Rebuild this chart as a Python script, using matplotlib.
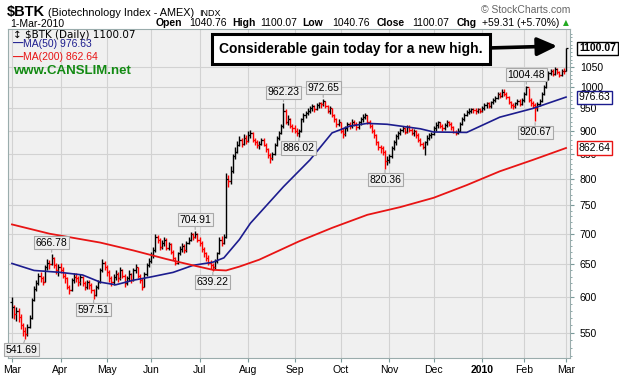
import numpy as np
import pandas as pd
import matplotlib
matplotlib.use("Agg")
import matplotlib.pyplot as plt
from matplotlib.ticker import FixedLocator, FixedFormatter, NullFormatter
from matplotlib.transforms import blended_transform_factory

plt.rcParams['font.family'] = ['Liberation Sans', 'DejaVu Sans']

# trading days 2-Mar-2009 .. 1-Mar-2010
holidays = ['2009-04-10', '2009-05-25', '2009-07-03', '2009-09-07', '2009-11-26',
            '2009-12-25', '2010-01-01', '2010-01-18', '2010-02-15']
dates = pd.bdate_range('2009-03-02', '2010-03-01', freq='C', holidays=holidays)

# daily closes, highs, lows (month by month)
closes = [
    585, 575, 580, 572, 560, 552, 548, 558, 570, 595, 612, 620, 632, 628, 622, 645, 652, 650, 660, 648, 640, 645,
    640, 632, 628, 615, 610, 625, 630, 628, 622, 630, 620, 615, 622, 618, 610, 603, 615, 622, 640, 652, 645,
    638, 628, 622, 630, 635, 628, 640, 632, 620, 628, 635, 625, 640, 645, 632, 625, 615, 635, 648, 655,
    665, 672, 695, 690, 678, 685, 690, 676, 682, 670, 660, 652, 668, 675, 680, 672, 685, 690, 700, 695, 700, 690,
    685, 675, 668, 660, 652, 648, 645, 655, 668, 690, 685, 695, 800, 795, 815, 845, 855, 870, 880, 872, 885, 878,
    890, 895, 880, 875, 868, 872, 880, 870, 860, 848, 842, 850, 870, 885, 895, 910, 945, 920, 925, 910, 905,
    900, 895, 900, 925, 935, 940, 945, 950, 955, 948, 958, 962, 960, 968, 955, 945, 950, 935, 925, 915, 920,
    900, 892, 905, 915, 910, 920, 915, 908, 918, 925, 930, 935, 920, 910, 900, 890, 875, 865, 862, 855, 835, 838,
    845, 862, 875, 888, 895, 902, 905, 898, 908, 902, 895, 900, 890, 880, 872, 865, 875, 885, 890, 892,
    905, 912, 918, 910, 905, 912, 918, 915, 908, 898, 895, 900, 915, 925, 935, 942, 945, 948, 946, 944, 948, 945,
    950, 958, 962, 955, 965, 970, 975, 985, 980, 990, 985, 978, 965, 958, 955, 962, 968, 960, 970,
    985, 1000, 970, 962, 958, 950, 960, 968, 985, 1000, 1020, 1035, 1040, 1032, 1045, 1038, 1030, 1042, 1040.76,
    1100.07,
]
highs = [
    600, 588, 586, 584, 575, 563, 558, 562, 574, 598, 616, 626, 636, 638, 632, 648, 658, 656, 666.78, 662, 652, 650,
    652, 645, 636, 630, 618, 628, 636, 636, 632, 634, 632, 624, 626, 625, 620, 612, 618, 626, 644, 658, 655,
    648, 640, 632, 634, 640, 638, 645, 642, 634, 632, 640, 636, 644, 650, 646, 635, 628, 638, 652, 660,
    670, 678, 700, 698, 692, 690, 695, 692, 686, 684, 672, 662, 670, 680, 684, 682, 688, 695, 703, 702, 704.91, 702,
    694, 688, 678, 670, 664, 656, 652, 658, 670, 694, 696, 700, 812, 808, 826, 850, 865, 878, 888, 885, 892, 890,
    900, 902, 896, 885, 880, 878, 885, 884, 874, 862, 852, 855, 874, 888, 900, 915, 962.23, 948, 935, 928, 915,
    912, 905, 904, 928, 940, 945, 950, 955, 960, 958, 962, 966, 966, 972.65, 968, 958, 955, 952, 938, 928, 925,
    920, 905, 910, 920, 920, 925, 924, 918, 922, 930, 938, 940, 936, 924, 914, 904, 892, 878, 870, 866, 858, 845,
    850, 866, 880, 892, 900, 906, 910, 908, 912, 912, 905, 904, 902, 894, 884, 876, 878, 890, 895, 898,
    910, 918, 922, 920, 914, 916, 924, 922, 918, 910, 902, 905, 918, 930, 940, 946, 950, 952, 952, 950, 952, 952,
    956, 962, 966, 966, 968, 975, 980, 990, 990, 995, 996, 990, 980, 968, 962, 966, 972, 972, 975,
    990, 1004.48, 998, 975, 968, 962, 965, 972, 990, 1005, 1025, 1040, 1046, 1045, 1050, 1048, 1042, 1046, 1048,
    1100.07,
]
lows = [
    570, 568, 566, 565, 555, 546, 541.69, 545, 556, 568, 594, 608, 618, 622, 618, 622, 640, 642, 648, 644, 634, 632,
    636, 628, 620, 612, 605, 608, 620, 622, 616, 618, 616, 610, 612, 612, 606, 597.51, 602, 612, 620, 638, 640,
    632, 622, 616, 618, 626, 622, 626, 628, 615, 618, 624, 620, 624, 636, 628, 620, 610, 614, 632, 645,
    652, 660, 670, 684, 672, 674, 680, 672, 672, 666, 656, 648, 650, 664, 670, 668, 670, 682, 688, 690, 692, 686,
    680, 670, 662, 655, 648, 642, 639.22, 642, 652, 666, 680, 682, 692, 785, 790, 812, 840, 852, 866, 865, 868, 872,
    876, 884, 876, 868, 862, 860, 868, 866, 855, 842, 832, 838, 848, 866, 880, 892, 905, 915, 912, 905, 898,
    895, 888, 886.02, 898, 920, 928, 934, 940, 944, 942, 946, 950, 952, 955, 950, 940, 938, 930, 918, 908, 910,
    894, 884, 888, 900, 904, 906, 910, 902, 904, 912, 920, 925, 915, 905, 895, 884, 870, 858, 852, 848, 820.36, 828,
    832, 842, 858, 870, 882, 890, 896, 892, 894, 896, 890, 888, 884, 875, 866, 860, 848, 870, 880, 884,
    890, 900, 906, 905, 900, 902, 908, 910, 902, 894, 890, 892, 898, 912, 922, 932, 938, 940, 940, 938, 940, 940,
    942, 946, 952, 950, 952, 960, 966, 972, 975, 978, 980, 972, 960, 952, 948, 950, 958, 955, 958,
    965, 982, 965, 955, 950, 920.67, 945, 955, 965, 982, 998, 1018, 1030, 1028, 1030, 1032, 1026, 1028, 1034,
    1040.76,
]
# index opens at prior close (1-Mar: open 1040.76 = prior close)
opens = [592] + closes[:-1]

# moving averages at selected trading-day positions
ma50_day = [0, 10, 22, 32, 40, 47, 55, 63, 73, 82, 91, 96, 103, 108, 123, 135, 145, 153, 161, 170, 176, 185, 191, 206, 221, 236, 251]
ma50_val = [651, 640, 637, 633, 622, 618, 625, 630, 637, 648, 653, 660, 690, 718, 785, 838, 895, 910, 916, 914, 910, 904, 897, 896, 930, 950, 976.63]
ma200_day = [0, 17, 40, 55, 70, 82, 91, 97, 103, 112, 130, 145, 161, 176, 191, 206, 221, 236, 251]
ma200_val = [716, 700, 685, 672, 658, 648, 641, 640, 646, 657, 687, 710, 733, 747, 764, 788, 815, 838, 862.64]

# labelled highs and lows: (day, value, 'hi'/'lo')
marks = [(6, 541.69, 'lo'), (18, 666.78, 'hi'), (37, 597.51, 'lo'), (83, 704.91, 'hi'),
         (91, 639.22, 'lo'), (123, 962.23, 'hi'), (130, 886.02, 'lo'), (141, 972.65, 'hi'),
         (169, 820.36, 'lo'), (233, 1004.48, 'hi'), (237, 920.67, 'lo')]

yticks = [550, 600, 650, 700, 750, 800, 850, 900, 950, 1000, 1050]

W, H = 619, 375
fig = plt.figure(figsize=(W / 100, H / 100), dpi=100)
fig.patch.set_facecolor('white')


def px(x, y):
    return x / W, 1 - y / H


ax = fig.add_axes([8 / W, 1 - 358 / H, (570 - 8) / W, (358 - 29) / H])
ax.set_facecolor('#f0f0f0')

n = len(closes)
idx = np.arange(n)
col = ['#000000' if i == 0 or closes[i] >= closes[i - 1] else '#ff0000' for i in range(n)]
ax.vlines(idx, lows, highs, colors=col, lw=1.0)
ax.hlines(opens, idx - 0.75, idx, colors=col, lw=0.9)
ax.hlines(closes, idx, idx + 0.75, colors=col, lw=0.9)

ax.plot(ma50_day, ma50_val, color='#1c1c8e', lw=1.2)
ax.plot(ma200_day, ma200_val, color='#e81414', lw=1.3)

ax.set_yscale('log')
ax.set_ylim(517, 1153)
ax.set_xlim(-1.8, 252.8)
ax.yaxis.set_major_locator(FixedLocator(yticks))
ax.yaxis.set_major_formatter(FixedFormatter([str(v) for v in yticks]))
ax.yaxis.set_minor_locator(FixedLocator(list(range(520, 1150, 10))))
ax.yaxis.set_minor_formatter(NullFormatter())
ax.yaxis.tick_right()
ax.tick_params(axis='y', which='major', length=3, pad=4, labelsize=7.5, color='#7a9a9a')
ax.tick_params(axis='y', which='minor', length=1.5, color='#7a9a9a')

# month ticks
m_idx = [i for i in range(n) if i == 0 or dates[i].month != dates[i - 1].month]
m_lab = [('2010' if dates[i].month == 1 else dates[i].strftime('%b')) for i in m_idx]
ax.xaxis.set_major_locator(FixedLocator(m_idx))
ax.xaxis.set_major_formatter(FixedFormatter(m_lab))
ax.xaxis.set_minor_formatter(NullFormatter())
ax.tick_params(axis='x', length=3, pad=2, labelsize=7.5, color='#7a9a9a')
for t in ax.get_xticklabels():
    if t.get_text() == '2010':
        t.set_fontweight('bold')

ax.grid(True, which='major', color='#d2d2d2', lw=0.8)
for s in ax.spines.values():
    s.set_color('#9aacac')
    s.set_linewidth(0.8)

# labels on highs and lows
for d, v, kind in marks:
    dy = 11 if kind == 'hi' else -11
    dx = -4 if d == 6 else 0
    ax.annotate(f'{v:.2f}', xy=(d, v), xytext=(dx, dy), textcoords='offset pixels',
                ha='center', va='center', fontsize=7.5,
                bbox=dict(boxstyle='square,pad=0.15', fc='#eeeeee', ec='#a8a8a8', lw=0.8),
                arrowprops=dict(arrowstyle='-', color='#a8a8a8', lw=0.8, shrinkA=0, shrinkB=1))

# right side value tags
tr = blended_transform_factory(ax.transAxes, ax.transData)
for v, ec, fw in [(1100.07, '#000000', 'bold'), (976.63, '#1c1c8e', 'normal'), (862.64, '#e81414', 'normal')]:
    ax.text(1.016, v, f'{v:.2f}', transform=tr, ha='left', va='center', fontsize=7.5,
            fontweight=fw, clip_on=False,
            bbox=dict(boxstyle='square,pad=0.15', fc='white', ec=ec, lw=1.0))

# legend block
fig.text(*px(13, 35), '\u2195 $BTK (Daily) 1100.07', fontsize=7.5,
         va='center', ha='left', family=['DejaVu Sans'])
fig.text(*px(13, 44), '\u2014', color='#1c1c8e', fontsize=7.5, va='center', fontweight='bold')
fig.text(*px(23, 44), 'MA(50) 976.63', color='#1c1c8e', fontsize=7.5, va='center')
fig.text(*px(13, 57.5), '\u2014', color='#e81414', fontsize=7.5, va='center', fontweight='bold')
fig.text(*px(23, 57.5), 'MA(200) 862.64', color='#e81414', fontsize=7.5, va='center')
fig.text(*px(13, 71), 'www.CANSLIM.net', color='#138a13', fontsize=9.5, va='center', fontweight='bold')

# comment box with arrow
fig.text(*px(351, 49), 'Considerable gain today for a new high.', fontsize=10, fontweight='bold',
         ha='center', va='center',
         bbox=dict(boxstyle='square,pad=0.55', fc='white', ec='black', lw=2.2))
ax.annotate('', xy=px(560, 46), xycoords='figure fraction', xytext=px(488, 48),
            textcoords='figure fraction',
            arrowprops=dict(arrowstyle='-|>,head_length=1.2,head_width=0.55', color='black', lw=2.6))

# header
fig.text(*px(7, 16), '$BTK', fontsize=10.5, fontweight='bold', va='baseline')
fig.text(*px(48, 16), '(Biotechnology Index - AMEX)', fontsize=7.8, va='baseline')
fig.text(*px(199, 16), 'INDX', fontsize=6.5, va='baseline')
fig.text(*px(10, 27), '1-Mar-2010', fontsize=7.5, va='baseline')
hdr = [(156, 'Open', 'bold'), (189, '1040.76', 'normal'), (232, 'High', 'bold'), (260, '1100.07', 'normal'),
       (302, 'Low', 'bold'), (332, '1040.76', 'normal'), (377, 'Close', 'bold'), (412, '1100.07', 'normal'),
       (457, 'Chg', 'bold'), (482, '+59.31 (+5.70%)', 'normal')]
for x, s, fw in hdr:
    fig.text(*px(x, 26), s, fontsize=7.5, fontweight=fw, va='baseline')
fig.text(*px(566, 23), '\u25b2', color='#22aa22', fontsize=5.5, va='center', ha='center', family=['DejaVu Sans'])
fig.text(*px(570, 10), '\u00a9 StockCharts.com', fontsize=7.5, color='#666666', ha='right', va='center')

fig.savefig('out.png', dpi=100)
